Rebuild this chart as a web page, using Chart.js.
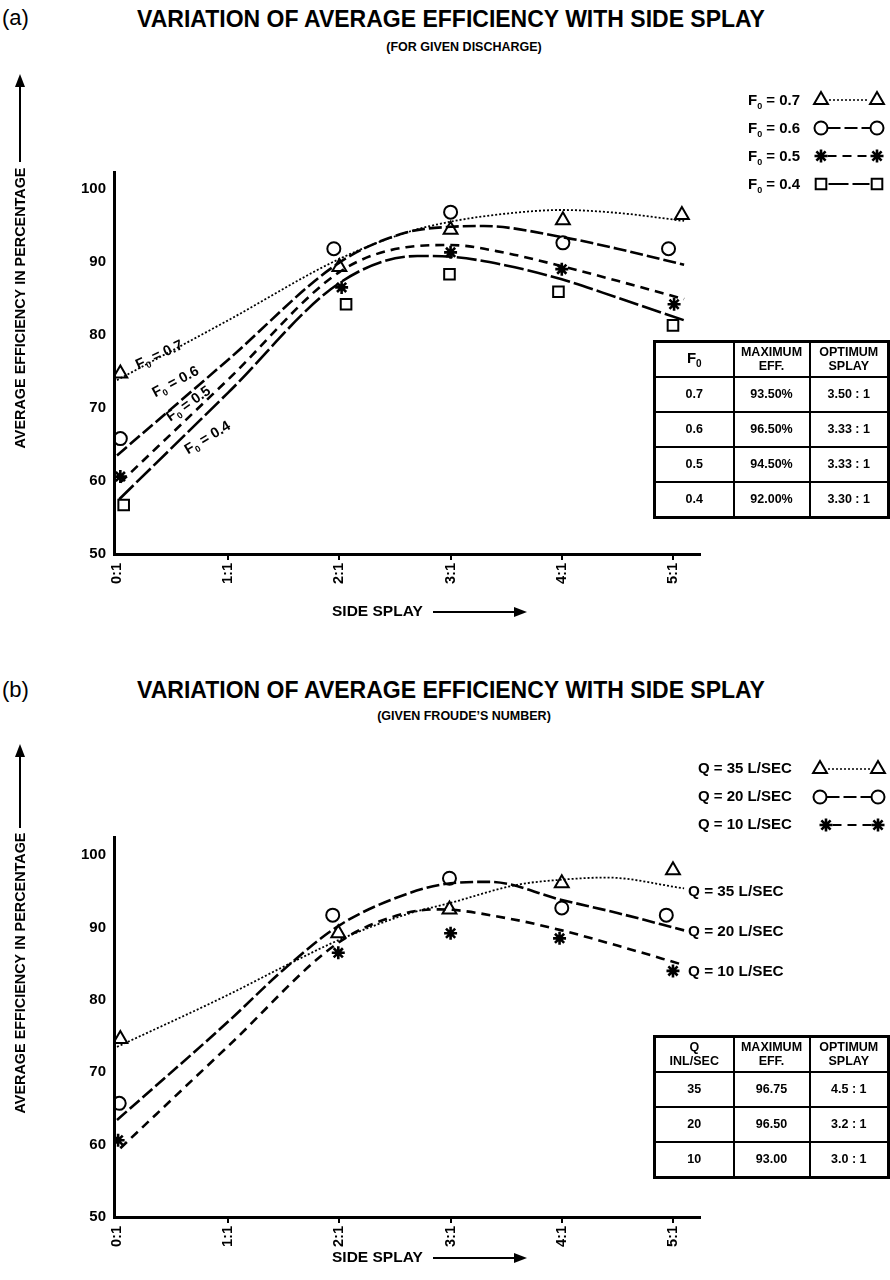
<!DOCTYPE html>
<html>
<head>
<meta charset="utf-8">
<script src="https://cdn.jsdelivr.net/npm/chart.js@4.4.1/dist/chart.umd.min.js"></script>
<style>
body{margin:0;background:#fff;width:890px;height:1280px;position:relative;overflow:hidden;font-family:"Liberation Sans",Arial,sans-serif;color:#000}
canvas{position:absolute;left:0}
.c{position:absolute;white-space:nowrap;font-weight:bold;line-height:1;transform:translate(-50%,-50%)}
.l{position:absolute;white-space:nowrap;line-height:1;transform:translateY(-50%)}
table{position:absolute;border-collapse:collapse;table-layout:fixed;width:234px;font-weight:bold;font-size:12.5px;text-align:center;border:3px solid #000}
td{border:2px solid #000;padding:0;height:33px;line-height:1.1}
td sub{font-size:10px}
</style>
</head>
<body>
<div class="l" style="left:2px;top:18px;font-size:22px">(a)</div>
<div class="c" style="left:451px;top:19px;font-size:23px">VARIATION OF AVERAGE EFFICIENCY WITH SIDE SPLAY</div>
<div class="c" style="left:464px;top:47px;font-size:12.5px">(FOR GIVEN DISCHARGE)</div>
<div class="l" style="left:2px;top:690px;font-size:22px">(b)</div>
<div class="c" style="left:451px;top:690px;font-size:23px">VARIATION OF AVERAGE EFFICIENCY WITH SIDE SPLAY</div>
<div class="c" style="left:464px;top:716px;font-size:12.5px">(GIVEN FROUDE’S NUMBER)</div>

<canvas id="chartA" width="890" height="640" style="top:0"></canvas>
<canvas id="chartB" width="890" height="640" style="top:640px"></canvas>
<table id="tabA" style="left:653px;top:340px"></table>
<table id="tabB" style="left:653px;top:1035px"></table>

<script>
// side splay ticks (n : 1)
const splayTicks = [0, 1, 2, 3, 4, 5];

// (a) for given discharge - fitted curves
const curveA07x = [0, 1, 2, 2.6, 3, 3.5, 4, 4.5, 5.1];
const curveA07y = [73.8, 82.0, 90.4, 94.0, 95.5, 96.6, 97.1, 96.7, 95.6];
const curveA06x = [0, 1, 2, 2.6, 3, 3.3, 4, 4.5, 5.1];
const curveA06y = [63.5, 76.6, 89.9, 94.0, 94.8, 94.9, 93.4, 91.8, 89.6];
const curveA05x = [0.03, 1, 2, 2.6, 3, 3.5, 4, 4.5, 5.1];
const curveA05y = [59.8, 73.9, 88.6, 92.0, 92.3, 91.2, 89.4, 87.4, 84.9];
const curveA04x = [0.02, 1, 2, 2.7, 3, 3.5, 4, 4.5, 5.1];
const curveA04y = [57.5, 72.1, 87.1, 90.8, 90.7, 89.5, 87.6, 85.1, 82.0];
// (a) observed points
const ptsA07x = [0.03, 2.0, 3.0, 4.01, 5.08];
const ptsA07y = [74.7, 89.3, 94.4, 95.7, 96.4];
const ptsA06x = [0.03, 1.95, 3.0, 4.01, 4.96];
const ptsA06y = [65.8, 91.8, 96.8, 92.6, 91.8];
const ptsA05x = [0.03, 2.02, 3.0, 4.0, 5.01];
const ptsA05y = [60.6, 86.5, 91.3, 89.0, 84.2];
const ptsA04x = [0.06, 2.06, 2.99, 3.97, 5.0];
const ptsA04y = [56.7, 84.2, 88.3, 85.9, 81.3];

// (b) given froude's number - fitted curves
const curveB35x = [0, 1, 1.5, 2, 2.6, 3, 3.6, 4, 4.4, 5.1];
const curveB35y = [73.5, 80.7, 84.6, 88.3, 91.8, 93.4, 95.9, 96.6, 96.9, 95.4];
const curveB20x = [0, 1, 1.5, 2, 2.6, 3, 3.35, 4, 4.5, 5.1];
const curveB20y = [63.4, 77.0, 84.2, 90.3, 94.6, 96.1, 96.3, 93.8, 92.0, 89.6];
const curveB10x = [0.03, 1, 2, 2.6, 2.9, 3.5, 4, 4.5, 5.1];
const curveB10y = [59.5, 73.6, 88.0, 92.0, 92.5, 91.3, 89.6, 87.5, 84.8];
// (b) observed points
const ptsB35x = [0.03, 1.99, 2.99, 4.0, 5.0];
const ptsB35y = [74.6, 89.2, 92.5, 96.1, 97.9];
const ptsB20x = [0.02, 1.94, 2.99, 4.0, 4.94];
const ptsB20y = [65.7, 91.7, 96.8, 92.7, 91.7];
const ptsB10x = [0.01, 1.99, 3.0, 3.98, 5.0];
const ptsB10y = [60.6, 86.5, 89.2, 88.5, 84.0];

// tables
const tabAHead = ['F<sub>0</sub>', 'MAXIMUM<br>EFF.', 'OPTIMUM<br>SPLAY'];
const tabARows = [['0.7', '93.50%', '3.50 : 1'], ['0.6', '96.50%', '3.33 : 1'], ['0.5', '94.50%', '3.33 : 1'], ['0.4', '92.00%', '3.30 : 1']];
const tabBHead = ['Q<br>INL/SEC', 'MAXIMUM<br>EFF.', 'OPTIMUM<br>SPLAY'];
const tabBRows = [['35', '96.75', '4.5 : 1'], ['20', '96.50', '3.2 : 1'], ['10', '93.00', '3.0 : 1']];

const ink = '#000';
const fam = '"Liberation Sans", Arial, sans-serif';
const dotted = [2, 2], midDash = [13, 4], shortDash = [9, 6], longDash = [20, 4];

function fillTable(id, head, rows) {
    let html = '<colgroup><col style="width:79px"><col style="width:76px"><col style="width:79px"></colgroup>';
    html += '<tr>' + head.map(h => '<td style="font-size:' + (h.indexOf('sub') > 0 ? 15 : 12.5) + 'px">' + h + '</td>').join('') + '</tr>';
    rows.forEach(r => { html += '<tr>' + r.map(v => '<td>' + v + '</td>').join('') + '</tr>'; });
    document.getElementById(id).innerHTML = html;
}
fillTable('tabA', tabAHead, tabARows);
fillTable('tabB', tabBHead, tabBRows);

function pairs(xs, ys) {
    return xs.map((x, i) => ({x: x, y: ys[i]}));
}
function curveSet(xs, ys, dash, width) {
    return {
        data: pairs(xs, ys), showLine: true, borderColor: ink, borderWidth: width,
        borderDash: dash, pointRadius: 0, cubicInterpolationMode: 'monotone', fill: false
    };
}
function markSet(xs, ys, style, radius) {
    return {
        data: pairs(xs, ys), showLine: false, pointStyle: style, pointRadius: radius,
        pointBorderWidth: style === 'star' ? 2.6 : 2, pointBorderColor: ink, pointBackgroundColor: 'rgba(0,0,0,0)'
    };
}

// text like F0 = 0.7 with a subscript, left aligned, y is the middle
function subText(ctx, main, sub, rest, x, y, size) {
    let base = y + size * 0.36;
    ctx.textAlign = 'left';
    ctx.textBaseline = 'alphabetic';
    ctx.font = 'bold ' + size + 'px ' + fam;
    ctx.fillText(main, x, base);
    let w = ctx.measureText(main).width;
    ctx.font = 'bold ' + Math.round(size * 0.62) + 'px ' + fam;
    ctx.fillText(sub, x + w, base + size * 0.22);
    w += ctx.measureText(sub).width;
    ctx.font = 'bold ' + size + 'px ' + fam;
    ctx.fillText(rest, x + w, base);
    return w + ctx.measureText(rest).width;
}
function subWidth(ctx, main, sub, rest, size) {
    ctx.font = 'bold ' + size + 'px ' + fam;
    let w = ctx.measureText(main).width + ctx.measureText(rest).width;
    ctx.font = 'bold ' + Math.round(size * 0.62) + 'px ' + fam;
    return w + ctx.measureText(sub).width;
}
function arrow(ctx, x1, y1, x2, y2) {
    let a = Math.atan2(y2 - y1, x2 - x1);
    ctx.save();
    ctx.strokeStyle = ink; ctx.fillStyle = ink; ctx.lineWidth = 2; ctx.setLineDash([]);
    ctx.beginPath(); ctx.moveTo(x1, y1); ctx.lineTo(x2 - 10 * Math.cos(a), y2 - 10 * Math.sin(a)); ctx.stroke();
    ctx.translate(x2, y2); ctx.rotate(a);
    ctx.beginPath(); ctx.moveTo(0, 0); ctx.lineTo(-13, -5); ctx.lineTo(-13, 5); ctx.closePath(); ctx.fill();
    ctx.restore();
}
function yTitle(ctx, cy, arrowFrom, arrowTo) {
    ctx.save();
    ctx.translate(21, cy); ctx.rotate(-Math.PI / 2);
    ctx.font = 'bold 14.4px ' + fam; ctx.fillStyle = ink;
    ctx.textAlign = 'center'; ctx.textBaseline = 'middle';
    ctx.fillText('AVERAGE EFFICIENCY IN PERCENTAGE', 0, 0);
    ctx.restore();
    arrow(ctx, 20, arrowFrom, 20, arrowTo);
}
function xTitle(ctx, y) {
    ctx.save();
    ctx.font = 'bold 15.5px ' + fam; ctx.fillStyle = ink;
    ctx.textAlign = 'left'; ctx.textBaseline = 'middle';
    ctx.fillText('SIDE SPLAY', 332, y);
    ctx.restore();
    arrow(ctx, 433, y, 527, y);
}
function legendRow(ctx, y, x1, x2, style, radius, dash, width) {
    ctx.save();
    ctx.strokeStyle = ink; ctx.lineWidth = width; ctx.setLineDash(dash);
    ctx.beginPath(); ctx.moveTo(x1 + radius, y); ctx.lineTo(x2 - radius, y); ctx.stroke();
    ctx.setLineDash([]); ctx.lineWidth = style === 'star' ? 2.6 : 2; ctx.fillStyle = 'rgba(0,0,0,0)';
    Chart.helpers.drawPoint(ctx, {pointStyle: style, radius: radius, rotation: 0, borderWidth: 2}, x1, y);
    Chart.helpers.drawPoint(ctx, {pointStyle: style, radius: radius, rotation: 0, borderWidth: 2}, x2, y);
    ctx.restore();
}
function tiltLabel(ctx, rest, cx, cy, deg) {
    ctx.save();
    ctx.translate(cx, cy); ctx.rotate(deg * Math.PI / 180);
    ctx.fillStyle = ink;
    let w = subWidth(ctx, 'F', '0', ' = ' + rest, 14.5);
    subText(ctx, 'F', '0', ' = ' + rest, -w / 2, 0, 14.5);
    ctx.restore();
}

function drawDecorA(ctx) {
    ctx.save();
    ctx.fillStyle = ink;
    yTitle(ctx, 308, 162, 74);
    xTitle(ctx, 612);
    let rows = [['0.7', 'triangle', 8, dotted, 1.6], ['0.6', 'circle', 6.5, midDash, 2],
                ['0.5', 'star', 6.5, shortDash, 2], ['0.4', 'rect', 7.5, longDash, 2]];
    rows.forEach((r, i) => {
        let y = 100 + i * 28;
        ctx.fillStyle = ink;
        subText(ctx, 'F', '0', ' = ' + r[0], 748, y, 15);
        legendRow(ctx, y, 821, 877, r[1], r[2], r[3], r[4]);
    });
    tiltLabel(ctx, '0.7', 159, 354, -25);
    tiltLabel(ctx, '0.6', 175, 381, -28);
    tiltLabel(ctx, '0.5', 188, 403, -35);
    tiltLabel(ctx, '0.4', 207, 437, -31);
    ctx.restore();
}
function drawDecorB(ctx) {
    ctx.save();
    ctx.fillStyle = ink;
    yTitle(ctx, 333, 188, 104);
    xTitle(ctx, 618);
    let rows = [['35', 'triangle', 8, dotted, 1.6], ['20', 'circle', 6.5, midDash, 2], ['10', 'star', 6.5, shortDash, 2]];
    rows.forEach((r, i) => {
        let y = 129 + i * 28;
        ctx.fillStyle = ink;
        ctx.font = 'bold 15px ' + fam; ctx.textAlign = 'left'; ctx.textBaseline = 'middle';
        ctx.fillText('Q = ' + r[0] + ' L/SEC', 698, y);
        legendRow(ctx, y, r[1] === 'star' ? 826 : 820, 878, r[1], r[2], r[3], r[4]);
    });
    ctx.font = 'bold 15.3px ' + fam; ctx.textAlign = 'left'; ctx.textBaseline = 'middle'; ctx.fillStyle = ink;
    ctx.fillText('Q = 35 L/SEC', 688, 252);
    ctx.fillText('Q = 20 L/SEC', 688, 292);
    ctx.fillText('Q = 10 L/SEC', 688, 332);
    ctx.restore();
}

function makeChart(id, datasets, yMax, top, bottomPad, decor) {
    let tickFont = {family: fam, size: 15, weight: 'bold'};
    return new Chart(document.getElementById(id), {
        type: 'scatter',
        data: {datasets: datasets},
        options: {
            responsive: false,
            animation: false,
            events: [],
            layout: {padding: {left: 0, right: 190, top: top, bottom: bottomPad}},
            plugins: {legend: {display: false}, tooltip: {enabled: false}},
            scales: {
                x: {
                    type: 'linear', min: -0.027, max: 5.243,
                    afterFit: function (s) { s.height = 60; },
                    afterBuildTicks: function (s) { s.ticks = splayTicks.map(v => ({value: v})); },
                    ticks: {
                        callback: v => v + ':1', minRotation: 90, maxRotation: 90, autoSkip: false,
                        font: {family: fam, size: 14.5, weight: 'bold'}, color: ink, padding: 3
                    },
                    grid: {
                        drawOnChartArea: false, drawTicks: true, tickLength: 6, lineWidth: 2,
                        color: c => (c.tick && c.tick.value === 0) ? 'rgba(0,0,0,0)' : ink
                    },
                    border: {display: true, color: ink, width: 3}
                },
                y: {
                    min: 50, max: yMax,
                    afterFit: function (s) { s.width = 114; },
                    ticks: {stepSize: 10, includeBounds: false, font: tickFont, color: ink, padding: 8},
                    grid: {display: false, drawTicks: false},
                    border: {display: true, color: ink, width: 3}
                }
            }
        },
        plugins: [{id: 'decor_' + id, afterDraw: function (chart) { decor(chart.ctx); }}]
    });
}

makeChart('chartA', [
    curveSet(curveA07x, curveA07y, dotted, 1.8),
    curveSet(curveA06x, curveA06y, midDash, 2.6),
    curveSet(curveA05x, curveA05y, shortDash, 2.6),
    curveSet(curveA04x, curveA04y, longDash, 2.6),
    markSet(ptsA07x, ptsA07y, 'triangle', 8),
    markSet(ptsA06x, ptsA06y, 'circle', 6.5),
    markSet(ptsA05x, ptsA05y, 'star', 6.5),
    markSet(ptsA04x, ptsA04y, 'rect', 7.5)
], 102.3, 172, 26, drawDecorA);

makeChart('chartB', [
    curveSet(curveB35x, curveB35y, dotted, 1.8),
    curveSet(curveB20x, curveB20y, midDash, 2.6),
    curveSet(curveB10x, curveB10y, shortDash, 2.6),
    markSet(ptsB35x, ptsB35y, 'triangle', 8),
    markSet(ptsB20x, ptsB20y, 'circle', 6.5),
    markSet(ptsB10x, ptsB10y, 'star', 6.5)
], 102.5, 197, 3, drawDecorB);
</script>
</body>
</html>
